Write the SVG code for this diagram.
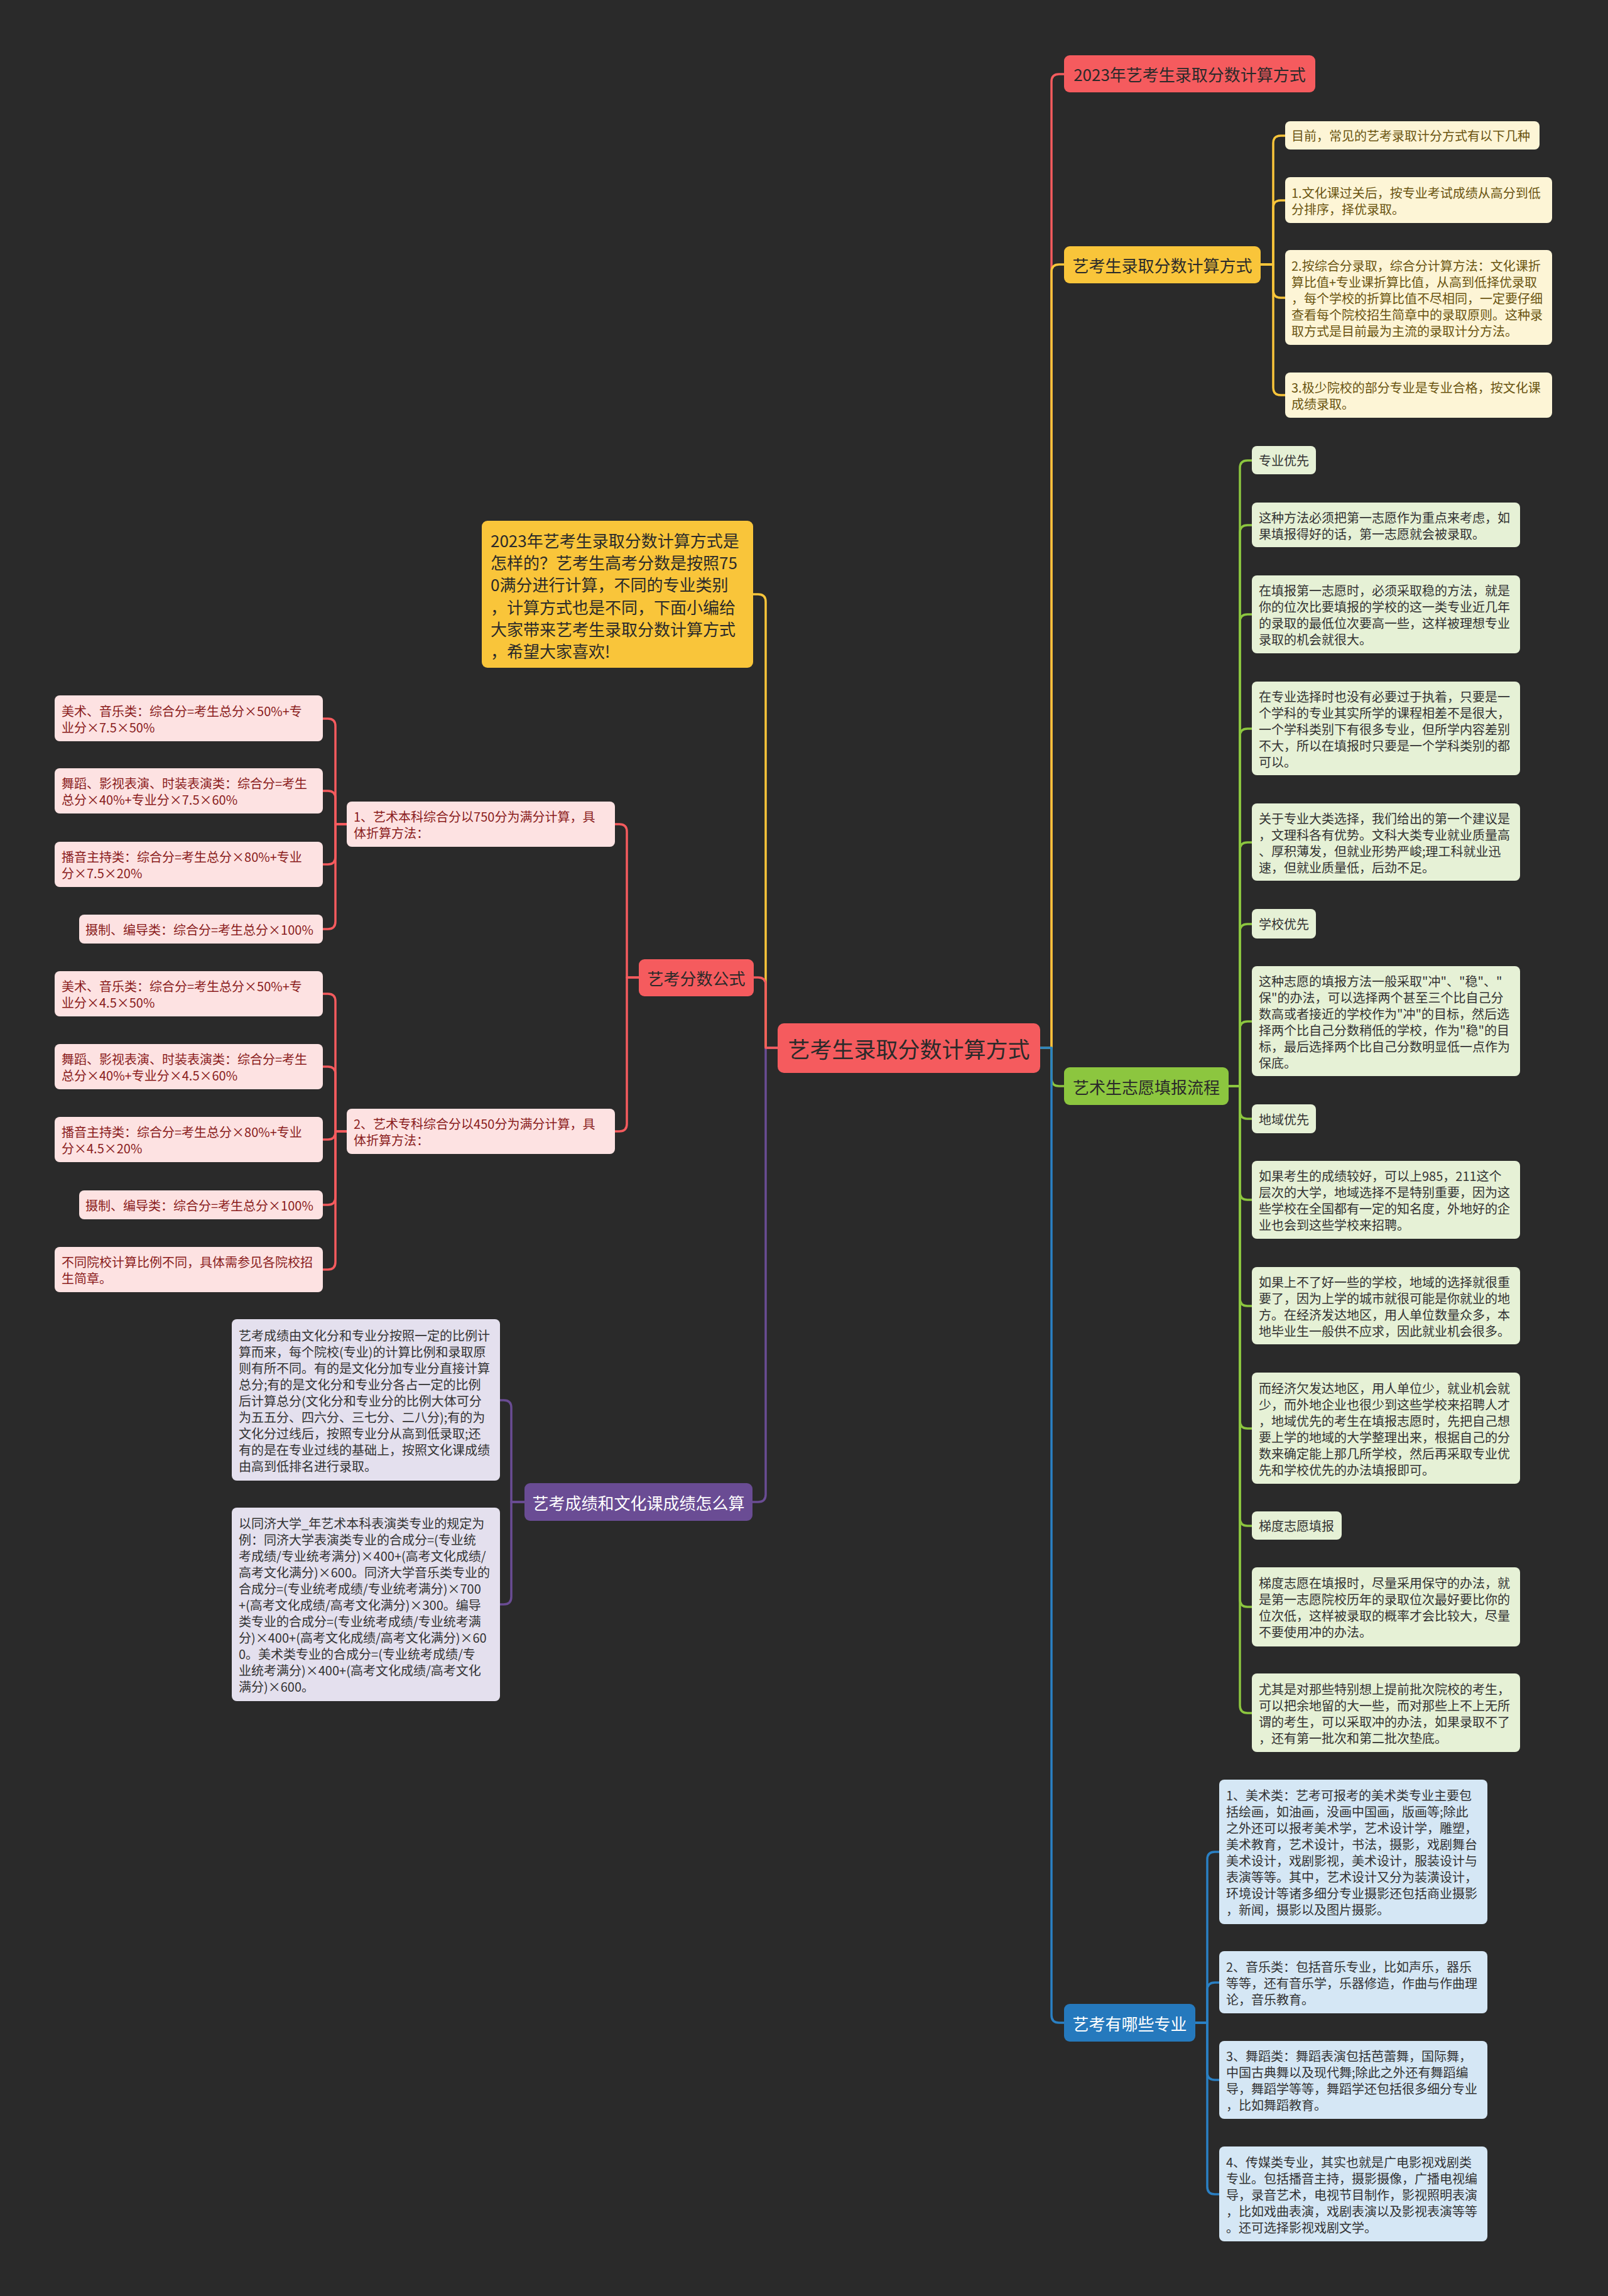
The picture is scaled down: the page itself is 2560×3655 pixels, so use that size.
<svg xmlns="http://www.w3.org/2000/svg" width="2560" height="3655" viewBox="0 0 2560 3655">
<style>
text{font-family:"Noto Sans CJK SC","Noto Sans",sans-serif;dominant-baseline:central}
.t20{font-size:20px}
.main{font-size:26px;text-anchor:middle}
.root{font-size:35px;text-anchor:middle;fill:#2a2a2a}
.dark{fill:#2a2a2a}
.white{fill:#ffffff}
.red{fill:#f55b5e}
.yel{fill:#f9c53a}
.grn{fill:#8cc63f}
.blu{fill:#2579bd}
.pur{fill:#6a4c94}
.ylt{fill:#fdf5d6}
.pnk{fill:#fde2e2}
.glt{fill:#e6f1d6}
.blt{fill:#d5e7f5}
.plt{fill:#e4e0ee}
.ytx{fill:#6a5410}
.ptx{fill:#8a1c1c}
.gtx{fill:#333333}
.c{fill:none;stroke-width:3.5;stroke-linejoin:round}
.cr{stroke:#f55b5e}.cy{stroke:#f9c53a}.cg{stroke:#8cc63f}.cb{stroke:#2a80c4}.cp{stroke:#6a4c94}
</style>
<rect x="0" y="0" width="2560" height="3655" fill="#2a2a2a"/>

<g id="connectors">
<!-- root right -->
<path class="c cr" d="M1656,1668 H1674 V130 Q1674,118 1686,118 H1694"/>
<path class="c cy" d="M1656,1668 H1674 V433 Q1674,421 1686,421 H1694"/>
<path class="c cg" d="M1656,1668 H1674 V1717 Q1674,1729 1686,1729 H1694"/>
<path class="c cb" d="M1656,1668 H1674 V3208 Q1674,3220 1686,3220 H1694"/>
<!-- root left -->
<path class="c cy" d="M1238,1668 H1219 V958 Q1219,946 1207,946 H1199"/>
<path class="c cp" d="M1238,1668 H1219 V2379 Q1219,2391 1207,2391 H1198"/>
<path class="c cr" d="M1238,1668 H1219 V1568 Q1219,1556 1207,1556 H1200"/>
<!-- yellow children -->
<path class="c cy" d="M2007,421 H2027 V228 Q2027,216 2039,216 H2046"/>
<path class="c cy" d="M2007,421 H2027 V331 Q2027,319 2039,319 H2046"/>
<path class="c cy" d="M2007,421 H2027 V462 Q2027,474 2039,474 H2046"/>
<path class="c cy" d="M2007,421 H2027 V617 Q2027,629 2039,629 H2046"/>
<!-- green children -->
<path class="c cg" d="M1956,1729 H1974 V745 Q1974,733 1986,733 H1993"/>
<path class="c cg" d="M1956,1729 H1974 V848 Q1974,836 1986,836 H1993"/>
<path class="c cg" d="M1956,1729 H1974 V990 Q1974,978 1986,978 H1993"/>
<path class="c cg" d="M1956,1729 H1974 V1172 Q1974,1160 1986,1160 H1993"/>
<path class="c cg" d="M1956,1729 H1974 V1353 Q1974,1341 1986,1341 H1993"/>
<path class="c cg" d="M1956,1729 H1974 V1483 Q1974,1471 1986,1471 H1993"/>
<path class="c cg" d="M1956,1729 H1974 V1638 Q1974,1626 1986,1626 H1993"/>
<path class="c cg" d="M1956,1729 H1974 V1769 Q1974,1781 1986,1781 H1993"/>
<path class="c cg" d="M1956,1729 H1974 V1898 Q1974,1910 1986,1910 H1993"/>
<path class="c cg" d="M1956,1729 H1974 V2067 Q1974,2079 1986,2079 H1993"/>
<path class="c cg" d="M1956,1729 H1974 V2262 Q1974,2274 1986,2274 H1993"/>
<path class="c cg" d="M1956,1729 H1974 V2417 Q1974,2429 1986,2429 H1993"/>
<path class="c cg" d="M1956,1729 H1974 V2546 Q1974,2558 1986,2558 H1993"/>
<path class="c cg" d="M1956,1729 H1974 V2715 Q1974,2727 1986,2727 H1993"/>
<!-- blue children -->
<path class="c cb" d="M1903,3220 H1922 V2960 Q1922,2948 1934,2948 H1941"/>
<path class="c cb" d="M1903,3220 H1922 V3168 Q1922,3156 1934,3156 H1941"/>
<path class="c cb" d="M1903,3220 H1922 V3299 Q1922,3311 1934,3311 H1941"/>
<path class="c cb" d="M1903,3220 H1922 V3481 Q1922,3493 1934,3493 H1941"/>
<!-- red formula children -->
<path class="c cr" d="M1017,1556 H998 V1324 Q998,1312 986,1312 H979"/>
<path class="c cr" d="M1017,1556 H998 V1789 Q998,1801 986,1801 H979"/>
<!-- 1、 leaves -->
<path class="c cr" d="M552,1312 H534 V1156 Q534,1144 522,1144 H514"/>
<path class="c cr" d="M552,1312 H534 V1271 Q534,1259 522,1259 H514"/>
<path class="c cr" d="M552,1312 H534 V1364 Q534,1376 522,1376 H514"/>
<path class="c cr" d="M552,1312 H534 V1467 Q534,1479 522,1479 H514"/>
<!-- 2、 leaves -->
<path class="c cr" d="M552,1801 H534 V1594 Q534,1582 522,1582 H514"/>
<path class="c cr" d="M552,1801 H534 V1710 Q534,1698 522,1698 H514"/>
<path class="c cr" d="M552,1801 H534 V1802 Q534,1814 522,1814 H514"/>
<path class="c cr" d="M552,1801 H534 V1906 Q534,1918 522,1918 H514"/>
<path class="c cr" d="M552,1801 H534 V2009 Q534,2021 522,2021 H514"/>
<!-- purple children -->
<path class="c cp" d="M835,2391 H814 V2241 Q814,2229 802,2229 H796"/>
<path class="c cp" d="M835,2391 H814 V2542 Q814,2554 802,2554 H796"/>
</g>

<g id="root">
<rect class="red" x="1238" y="1629" width="418" height="79" rx="10"/>
<text class="root" x="1447" y="1668">艺考生录取分数计算方式</text>
</g>

<g id="n-title">
<rect class="red" x="1694" y="88" width="400" height="59" rx="9"/>
<text class="main dark" x="1894" y="117.5">2023年艺考生录取分数计算方式</text>
</g>

<g id="n-yellow">
<rect class="yel" x="1694" y="392" width="313" height="59" rx="9"/>
<text class="main dark" x="1850.5" y="421.5">艺考生录取分数计算方式</text>
</g>
<g id="y1"><rect class="ylt" x="2046" y="193" width="405" height="45" rx="8"/>
<text class="t20 ytx" x="2056" y="215.5">目前，常见的艺考录取计分方式有以下几种</text></g>
<g id="y2"><rect class="ylt" x="2046" y="282" width="425" height="73" rx="8"/>
<text class="t20 ytx"><tspan x="2056" y="305.5">1.文化课过关后，按专业考试成绩从高分到低</tspan><tspan x="2056" y="331.5">分排序，择优录取。</tspan></text></g>
<g id="y3"><rect class="ylt" x="2046" y="398" width="425" height="151" rx="8"/>
<text class="t20 ytx"><tspan x="2056" y="421.5">2.按综合分录取，综合分计算方法：文化课折</tspan><tspan x="2056" y="447.5">算比值+专业课折算比值，从高到低择优录取</tspan><tspan x="2056" y="473.5">，每个学校的折算比值不尽相同，一定要仔细</tspan><tspan x="2056" y="499.5">查看每个院校招生简章中的录取原则。这种录</tspan><tspan x="2056" y="525.5">取方式是目前最为主流的录取计分方法。</tspan></text></g>
<g id="y4"><rect class="ylt" x="2046" y="593" width="425" height="72" rx="8"/>
<text class="t20 ytx"><tspan x="2056" y="616">3.极少院校的部分专业是专业合格，按文化课</tspan><tspan x="2056" y="642">成绩录取。</tspan></text></g>

<g id="n-green">
<rect class="grn" x="1694" y="1699" width="262" height="60" rx="9"/>
<text class="main dark" x="1825" y="1729">艺术生志愿填报流程</text>
</g>
<g id="g1"><rect class="glt" x="1993" y="710" width="102" height="45" rx="8"/>
<text class="t20 gtx" x="2004" y="732.5">专业优先</text></g>
<g id="g2"><rect class="glt" x="1993" y="800" width="427" height="71" rx="8"/>
<text class="t20 gtx"><tspan x="2004" y="822.5">这种方法必须把第一志愿作为重点来考虑，如</tspan><tspan x="2004" y="848.5">果填报得好的话，第一志愿就会被录取。</tspan></text></g>
<g id="g3"><rect class="glt" x="1993" y="916" width="427" height="124" rx="8"/>
<text class="t20 gtx"><tspan x="2004" y="939">在填报第一志愿时，必须采取稳的方法，就是</tspan><tspan x="2004" y="965">你的位次比要填报的学校的这一类专业近几年</tspan><tspan x="2004" y="991">的录取的最低位次要高一些，这样被理想专业</tspan><tspan x="2004" y="1017">录取的机会就很大。</tspan></text></g>
<g id="g4"><rect class="glt" x="1993" y="1085" width="427" height="149" rx="8"/>
<text class="t20 gtx"><tspan x="2004" y="1107.5">在专业选择时也没有必要过于执着，只要是一</tspan><tspan x="2004" y="1133.5">个学科的专业其实所学的课程相差不是很大，</tspan><tspan x="2004" y="1159.5">一个学科类别下有很多专业，但所学内容差别</tspan><tspan x="2004" y="1185.5">不大，所以在填报时只要是一个学科类别的都</tspan><tspan x="2004" y="1211.5">可以。</tspan></text></g>
<g id="g5"><rect class="glt" x="1993" y="1279" width="427" height="123" rx="8"/>
<text class="t20 gtx"><tspan x="2004" y="1301.5">关于专业大类选择，我们给出的第一个建议是</tspan><tspan x="2004" y="1327.5">，文理科各有优势。文科大类专业就业质量高</tspan><tspan x="2004" y="1353.5">、厚积薄发，但就业形势严峻;理工科就业迅</tspan><tspan x="2004" y="1379.5">速，但就业质量低，后劲不足。</tspan></text></g>
<g id="g6"><rect class="glt" x="1993" y="1447" width="102" height="47" rx="8"/>
<text class="t20 gtx" x="2004" y="1470.5">学校优先</text></g>
<g id="g7"><rect class="glt" x="1993" y="1538" width="427" height="175" rx="8"/>
<text class="t20 gtx"><tspan x="2004" y="1560.5">这种志愿的填报方法一般采取"冲"、"稳"、"</tspan><tspan x="2004" y="1586.5">保"的办法，可以选择两个甚至三个比自己分</tspan><tspan x="2004" y="1612.5">数高或者接近的学校作为"冲"的目标，然后选</tspan><tspan x="2004" y="1638.5">择两个比自己分数稍低的学校，作为"稳"的目</tspan><tspan x="2004" y="1664.5">标，最后选择两个比自己分数明显低一点作为</tspan><tspan x="2004" y="1690.5">保底。</tspan></text></g>
<g id="g8"><rect class="glt" x="1993" y="1758" width="102" height="46" rx="8"/>
<text class="t20 gtx" x="2004" y="1781">地域优先</text></g>
<g id="g9"><rect class="glt" x="1993" y="1848" width="427" height="124" rx="8"/>
<text class="t20 gtx"><tspan x="2004" y="1871">如果考生的成绩较好，可以上985，211这个</tspan><tspan x="2004" y="1897">层次的大学，地域选择不是特别重要，因为这</tspan><tspan x="2004" y="1923">些学校在全国都有一定的知名度，外地好的企</tspan><tspan x="2004" y="1949">业也会到这些学校来招聘。</tspan></text></g>
<g id="g10"><rect class="glt" x="1993" y="2017" width="427" height="123" rx="8"/>
<text class="t20 gtx"><tspan x="2004" y="2039.5">如果上不了好一些的学校，地域的选择就很重</tspan><tspan x="2004" y="2065.5">要了，因为上学的城市就很可能是你就业的地</tspan><tspan x="2004" y="2091.5">方。在经济发达地区，用人单位数量众多，本</tspan><tspan x="2004" y="2117.5">地毕业生一般供不应求，因此就业机会很多。</tspan></text></g>
<g id="g11"><rect class="glt" x="1993" y="2185" width="427" height="177" rx="8"/>
<text class="t20 gtx"><tspan x="2004" y="2208.5">而经济欠发达地区，用人单位少，就业机会就</tspan><tspan x="2004" y="2234.5">少，而外地企业也很少到这些学校来招聘人才</tspan><tspan x="2004" y="2260.5">，地域优先的考生在填报志愿时，先把自己想</tspan><tspan x="2004" y="2286.5">要上学的地域的大学整理出来，根据自己的分</tspan><tspan x="2004" y="2312.5">数来确定能上那几所学校，然后再采取专业优</tspan><tspan x="2004" y="2338.5">先和学校优先的办法填报即可。</tspan></text></g>
<g id="g12"><rect class="glt" x="1993" y="2406" width="143" height="45" rx="8"/>
<text class="t20 gtx" x="2004" y="2428.5">梯度志愿填报</text></g>
<g id="g13"><rect class="glt" x="1993" y="2495" width="427" height="126" rx="8"/>
<text class="t20 gtx"><tspan x="2004" y="2519">梯度志愿在填报时，尽量采用保守的办法，就</tspan><tspan x="2004" y="2545">是第一志愿院校历年的录取位次最好要比你的</tspan><tspan x="2004" y="2571">位次低，这样被录取的概率才会比较大，尽量</tspan><tspan x="2004" y="2597">不要使用冲的办法。</tspan></text></g>
<g id="g14"><rect class="glt" x="1993" y="2664" width="427" height="125" rx="8"/>
<text class="t20 gtx"><tspan x="2004" y="2687.5">尤其是对那些特别想上提前批次院校的考生，</tspan><tspan x="2004" y="2713.5">可以把余地留的大一些，而对那些上不上无所</tspan><tspan x="2004" y="2739.5">谓的考生，可以采取冲的办法，如果录取不了</tspan><tspan x="2004" y="2765.5">，还有第一批次和第二批次垫底。</tspan></text></g>

<g id="n-blue">
<rect class="blu" x="1694" y="3190" width="209" height="60" rx="9"/>
<text class="main white" x="1798.5" y="3220">艺考有哪些专业</text>
</g>
<g id="b1"><rect class="blt" x="1941" y="2833" width="427" height="230" rx="8"/>
<text class="t20 gtx"><tspan x="1952" y="2857">1、美术类：艺考可报考的美术类专业主要包</tspan><tspan x="1952" y="2883">括绘画，如油画，没画中国画，版画等;除此</tspan><tspan x="1952" y="2909">之外还可以报考美术学，艺术设计学，雕塑，</tspan><tspan x="1952" y="2935">美术教育，艺术设计，书法，摄影，戏剧舞台</tspan><tspan x="1952" y="2961">美术设计，戏剧影视，美术设计，服装设计与</tspan><tspan x="1952" y="2987">表演等等。其中，艺术设计又分为装潢设计，</tspan><tspan x="1952" y="3013">环境设计等诸多细分专业摄影还包括商业摄影</tspan><tspan x="1952" y="3039">，新闻，摄影以及图片摄影。</tspan></text></g>
<g id="b2"><rect class="blt" x="1941" y="3106" width="427" height="99" rx="8"/>
<text class="t20 gtx"><tspan x="1952" y="3129.5">2、音乐类：包括音乐专业，比如声乐，器乐</tspan><tspan x="1952" y="3155.5">等等，还有音乐学，乐器修造，作曲与作曲理</tspan><tspan x="1952" y="3181.5">论，音乐教育。</tspan></text></g>
<g id="b3"><rect class="blt" x="1941" y="3249" width="427" height="124" rx="8"/>
<text class="t20 gtx"><tspan x="1952" y="3272">3、舞蹈类：舞蹈表演包括芭蕾舞，国际舞，</tspan><tspan x="1952" y="3298">中国古典舞以及现代舞;除此之外还有舞蹈编</tspan><tspan x="1952" y="3324">导，舞蹈学等等，舞蹈学还包括很多细分专业</tspan><tspan x="1952" y="3350">，比如舞蹈教育。</tspan></text></g>
<g id="b4"><rect class="blt" x="1941" y="3417" width="427" height="151" rx="8"/>
<text class="t20 gtx"><tspan x="1952" y="3440.5">4、传媒类专业，其实也就是广电影视戏剧类</tspan><tspan x="1952" y="3466.5">专业。包括播音主持，摄影摄像，广播电视编</tspan><tspan x="1952" y="3492.5">导，录音艺术，电视节目制作，影视照明表演</tspan><tspan x="1952" y="3518.5">，比如戏曲表演，戏剧表演以及影视表演等等</tspan><tspan x="1952" y="3544.5">。还可选择影视戏剧文学。</tspan></text></g>

<g id="n-intro">
<rect class="yel" x="767" y="829" width="432" height="234" rx="9"/>
<text style="font-size:26px" class="dark"><tspan x="781" y="859">2023年艺考生录取分数计算方式是</tspan><tspan x="781" y="894.2">怎样的？艺考生高考分数是按照75</tspan><tspan x="781" y="929.4">0满分进行计算，不同的专业类别</tspan><tspan x="781" y="964.6">，计算方式也是不同，下面小编给</tspan><tspan x="781" y="999.8">大家带来艺考生录取分数计算方式</tspan><tspan x="781" y="1035">，希望大家喜欢!</tspan></text>
</g>

<g id="n-formula">
<rect class="red" x="1017" y="1527" width="183" height="59" rx="9"/>
<text class="main dark" x="1108.5" y="1556">艺考分数公式</text>
</g>
<g id="f1"><rect class="pnk" x="552" y="1276" width="427" height="72" rx="8"/>
<text class="t20 ptx"><tspan x="563" y="1299">1、艺术本科综合分以750分为满分计算，具</tspan><tspan x="563" y="1325">体折算方法：</tspan></text></g>
<g id="f2"><rect class="pnk" x="552" y="1765" width="427" height="72" rx="8"/>
<text class="t20 ptx"><tspan x="563" y="1788">2、艺术专科综合分以450分为满分计算，具</tspan><tspan x="563" y="1814">体折算方法：</tspan></text></g>
<g id="la"><rect class="pnk" x="87" y="1107" width="427" height="73" rx="8"/>
<text class="t20 ptx"><tspan x="98" y="1130.5">美术、音乐类：综合分=考生总分×50%+专</tspan><tspan x="98" y="1156.5">业分×7.5×50%</tspan></text></g>
<g id="lb"><rect class="pnk" x="87" y="1223" width="427" height="72" rx="8"/>
<text class="t20 ptx"><tspan x="98" y="1246">舞蹈、影视表演、时装表演类：综合分=考生</tspan><tspan x="98" y="1272">总分×40%+专业分×7.5×60%</tspan></text></g>
<g id="lc"><rect class="pnk" x="87" y="1340" width="427" height="72" rx="8"/>
<text class="t20 ptx"><tspan x="98" y="1363">播音主持类：综合分=考生总分×80%+专业</tspan><tspan x="98" y="1389">分×7.5×20%</tspan></text></g>
<g id="ld"><rect class="pnk" x="126" y="1456" width="388" height="46" rx="8"/>
<text class="t20 ptx" x="136" y="1479">摄制、编导类：综合分=考生总分×100%</text></g>
<g id="le"><rect class="pnk" x="87" y="1546" width="427" height="72" rx="8"/>
<text class="t20 ptx"><tspan x="98" y="1569">美术、音乐类：综合分=考生总分×50%+专</tspan><tspan x="98" y="1595">业分×4.5×50%</tspan></text></g>
<g id="lf"><rect class="pnk" x="87" y="1662" width="427" height="72" rx="8"/>
<text class="t20 ptx"><tspan x="98" y="1685">舞蹈、影视表演、时装表演类：综合分=考生</tspan><tspan x="98" y="1711">总分×40%+专业分×4.5×60%</tspan></text></g>
<g id="lg"><rect class="pnk" x="87" y="1778" width="427" height="72" rx="8"/>
<text class="t20 ptx"><tspan x="98" y="1801">播音主持类：综合分=考生总分×80%+专业</tspan><tspan x="98" y="1827">分×4.5×20%</tspan></text></g>
<g id="lh"><rect class="pnk" x="126" y="1895" width="388" height="46" rx="8"/>
<text class="t20 ptx" x="136" y="1918">摄制、编导类：综合分=考生总分×100%</text></g>
<g id="li"><rect class="pnk" x="87" y="1985" width="427" height="72" rx="8"/>
<text class="t20 ptx"><tspan x="98" y="2008">不同院校计算比例不同，具体需参见各院校招</tspan><tspan x="98" y="2034">生简章。</tspan></text></g>

<g id="n-purple">
<rect class="pur" x="835" y="2361" width="363" height="60" rx="9"/>
<text class="main white" x="1016.5" y="2391">艺考成绩和文化课成绩怎么算</text>
</g>
<g id="p1"><rect class="plt" x="369" y="2100" width="427" height="257" rx="8"/>
<text class="t20 gtx"><tspan x="380" y="2124.5">艺考成绩由文化分和专业分按照一定的比例计</tspan><tspan x="380" y="2150.5">算而来，每个院校(专业)的计算比例和录取原</tspan><tspan x="380" y="2176.5">则有所不同。有的是文化分加专业分直接计算</tspan><tspan x="380" y="2202.5">总分;有的是文化分和专业分各占一定的比例</tspan><tspan x="380" y="2228.5">后计算总分(文化分和专业分的比例大体可分</tspan><tspan x="380" y="2254.5">为五五分、四六分、三七分、二八分);有的为</tspan><tspan x="380" y="2280.5">文化分过线后，按照专业分从高到低录取;还</tspan><tspan x="380" y="2306.5">有的是在专业过线的基础上，按照文化课成绩</tspan><tspan x="380" y="2332.5">由高到低排名进行录取。</tspan></text></g>
<g id="p2"><rect class="plt" x="369" y="2400" width="427" height="308" rx="8"/>
<text class="t20 gtx"><tspan x="380" y="2424">以同济大学_年艺术本科表演类专业的规定为</tspan><tspan x="380" y="2450">例：同济大学表演类专业的合成分=(专业统</tspan><tspan x="380" y="2476">考成绩/专业统考满分)×400+(高考文化成绩/</tspan><tspan x="380" y="2502">高考文化满分)×600。同济大学音乐类专业的</tspan><tspan x="380" y="2528">合成分=(专业统考成绩/专业统考满分)×700</tspan><tspan x="380" y="2554">+(高考文化成绩/高考文化满分)×300。编导</tspan><tspan x="380" y="2580">类专业的合成分=(专业统考成绩/专业统考满</tspan><tspan x="380" y="2606">分)×400+(高考文化成绩/高考文化满分)×60</tspan><tspan x="380" y="2632">0。美术类专业的合成分=(专业统考成绩/专</tspan><tspan x="380" y="2658">业统考满分)×400+(高考文化成绩/高考文化</tspan><tspan x="380" y="2684">满分)×600。</tspan></text></g>
</svg>
